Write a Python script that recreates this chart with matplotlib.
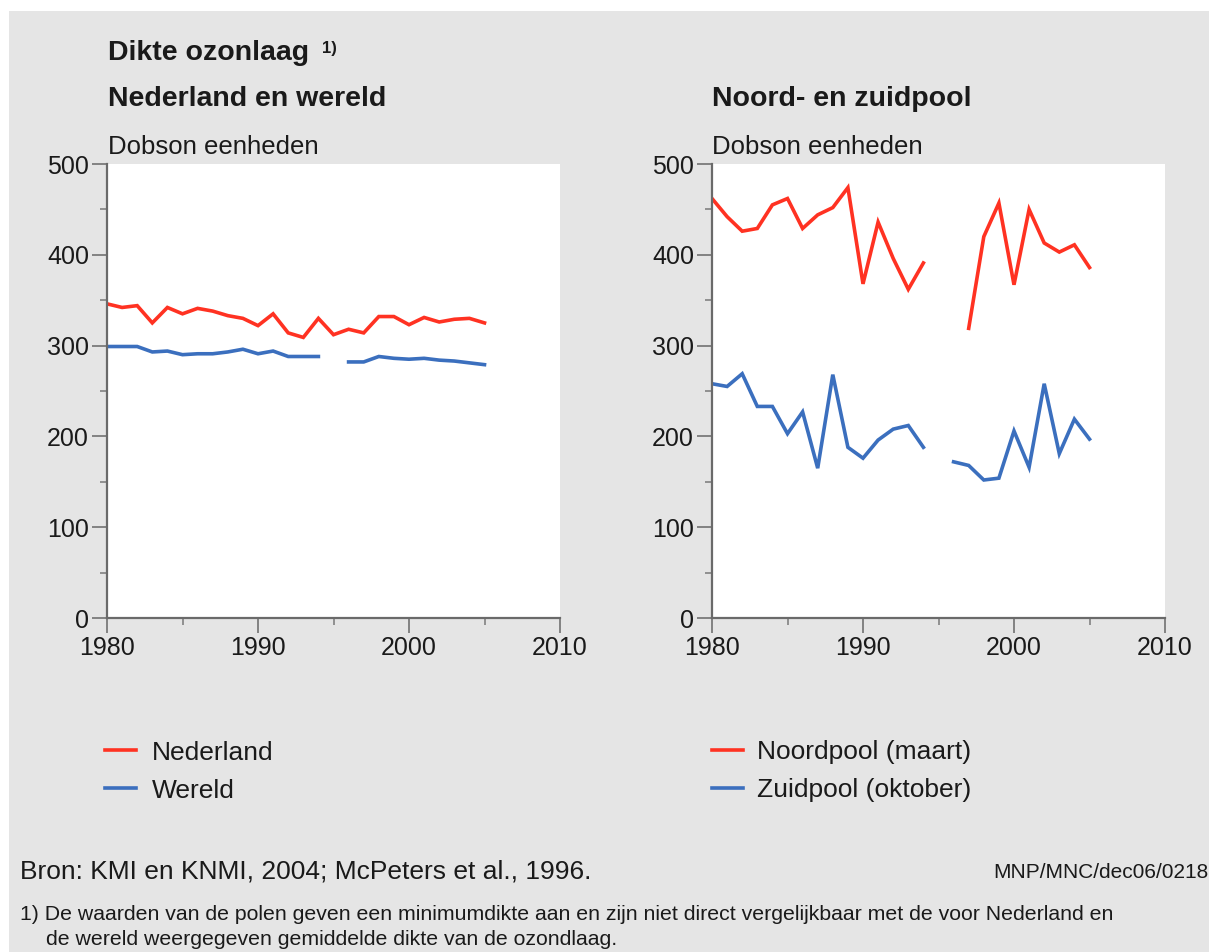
import numpy as np
import matplotlib
matplotlib.use('Agg')
import matplotlib.pyplot as plt
from matplotlib.patches import Rectangle
from matplotlib.lines import Line2D

plt.rcParams['font.family'] = ['Liberation Sans', 'DejaVu Sans']

years = list(range(1980, 2006))
nan = np.nan
nederland = [346, 342, 344, 325, 342, 335, 341, 338, 333, 330, 322, 335, 314,
             309, 330, 312, 318, 314, 332, 332, 323, 331, 326, 329, 330, 325]
wereld = [299, 299, 299, 293, 294, 290, 291, 291, 293, 296, 291, 294, 288,
          288, 288, nan, 282, 282, 288, 286, 285, 286, 284, 283, 281, 279]
noordpool = [462, 442, 426, 429, 455, 462, 429, 444, 452, 474, 368, 436, 396,
             362, 391, nan, nan, 319, 420, 457, 367, 450, 413, 403, 411, 386]
zuidpool = [258, 255, 269, 233, 233, 203, 227, 165, 268, 188, 176, 196, 208,
            212, 188, nan, 172, 168, 152, 154, 206, 166, 258, 181, 219, 197]

left_labels = ['Nederland', 'Wereld']
right_labels = ['Noordpool (maart)', 'Zuidpool (oktober)']

RED = '#ff3222'
BLUE = '#3b6fbe'
GREY_BG = '#e5e5e5'
TXT = '#1a1a1a'

W, H = 1209, 952
fig = plt.figure(figsize=(W / 100, H / 100), dpi=100, facecolor='white')

# grey panel behind everything
fig.patches.append(Rectangle((9 / W, 0), 1 - 9 / W, 1 - 11 / H,
                             transform=fig.transFigure, facecolor=GREY_BG,
                             edgecolor='none', zorder=-10))


def px(x, y):
    # pixel coords (top-left origin) -> figure fraction
    return x / W, 1 - y / H


def make_axes(x0, x1, y0=164, y1=618):
    ax = fig.add_axes([x0 / W, 1 - y1 / H, (x1 - x0) / W, (y1 - y0) / H])
    ax.set_facecolor('white')
    ax.set_xlim(1980, 2010)
    ax.set_ylim(0, 500)
    for s in ['top', 'right']:
        ax.spines[s].set_visible(False)
    for s in ['left', 'bottom']:
        ax.spines[s].set_color('#6a6a6a')
        ax.spines[s].set_linewidth(1.6)
    ax.set_xticks([1980, 1990, 2000, 2010])
    ax.set_xticks([1985, 1995, 2005], minor=True)
    ax.set_yticks([0, 100, 200, 300, 400, 500])
    ax.set_yticks([50, 150, 250, 350, 450], minor=True)
    ax.tick_params(which='major', length=10.5, width=1.3, color='#7a7a7a',
                   labelsize=18, labelcolor=TXT, pad=2.5)
    ax.tick_params(which='minor', length=5, width=1.3, color='#8a8a8a')
    return ax


ax1 = make_axes(107, 560)
ax1.plot(years, nederland, color=RED, lw=2.6, solid_joinstyle='miter')
ax1.plot(years, wereld, color=BLUE, lw=2.6, solid_joinstyle='miter')

ax2 = make_axes(712, 1165)
ax2.plot(years, noordpool, color=RED, lw=2.6, solid_joinstyle='miter')
ax2.plot(years, zuidpool, color=BLUE, lw=2.6, solid_joinstyle='miter')

# titles
fig.text(*px(108, 60), 'Dikte ozonlaag', fontsize=20.5, fontweight='bold',
         color=TXT, va='baseline')
fig.text(*px(322, 53), '1)', fontsize=12, fontweight='bold',
         color=TXT, va='baseline')
fig.text(*px(108, 106), 'Nederland en wereld', fontsize=20.5,
         fontweight='bold', color=TXT, va='baseline')
fig.text(*px(712, 106), 'Noord- en zuidpool', fontsize=20.5,
         fontweight='bold', color=TXT, va='baseline')
fig.text(*px(108, 154), 'Dobson eenheden', fontsize=18.5, color=TXT,
         va='baseline')
fig.text(*px(712, 154), 'Dobson eenheden', fontsize=18.5, color=TXT,
         va='baseline')

# legends drawn by hand in the grey area
for x_line, x_text, labels in [(105, 152, left_labels),
                               (712, 757, right_labels)]:
    for y, lab, col in zip([750, 788], labels, [RED, BLUE]):
        fig.lines.append(Line2D([x_line / W, (x_line + 31) / W],
                                [1 - y / H, 1 - y / H], color=col, lw=2.6,
                                transform=fig.transFigure))
        fig.text(*px(x_text, y), lab, fontsize=19, color=TXT,
                 va='center_baseline')

# footer
fig.text(*px(20, 879), 'Bron: KMI en KNMI, 2004; McPeters et al., 1996.',
         fontsize=19, color=TXT, va='baseline')
fig.text(*px(993, 878), 'MNP/MNC/dec06/0218', fontsize=15,
         color=TXT, va='baseline')
fig.text(*px(20, 920), '1) De waarden van de polen geven een minimumdikte aan '
         'en zijn niet direct vergelijkbaar met de voor Nederland en',
         fontsize=15.3, color=TXT, va='baseline')
fig.text(*px(46, 945), 'de wereld weergegeven gemiddelde dikte van de '
         'ozondlaag.', fontsize=15.3, color=TXT, va='baseline')

fig.savefig('out.png', dpi=100, facecolor=fig.get_facecolor())
